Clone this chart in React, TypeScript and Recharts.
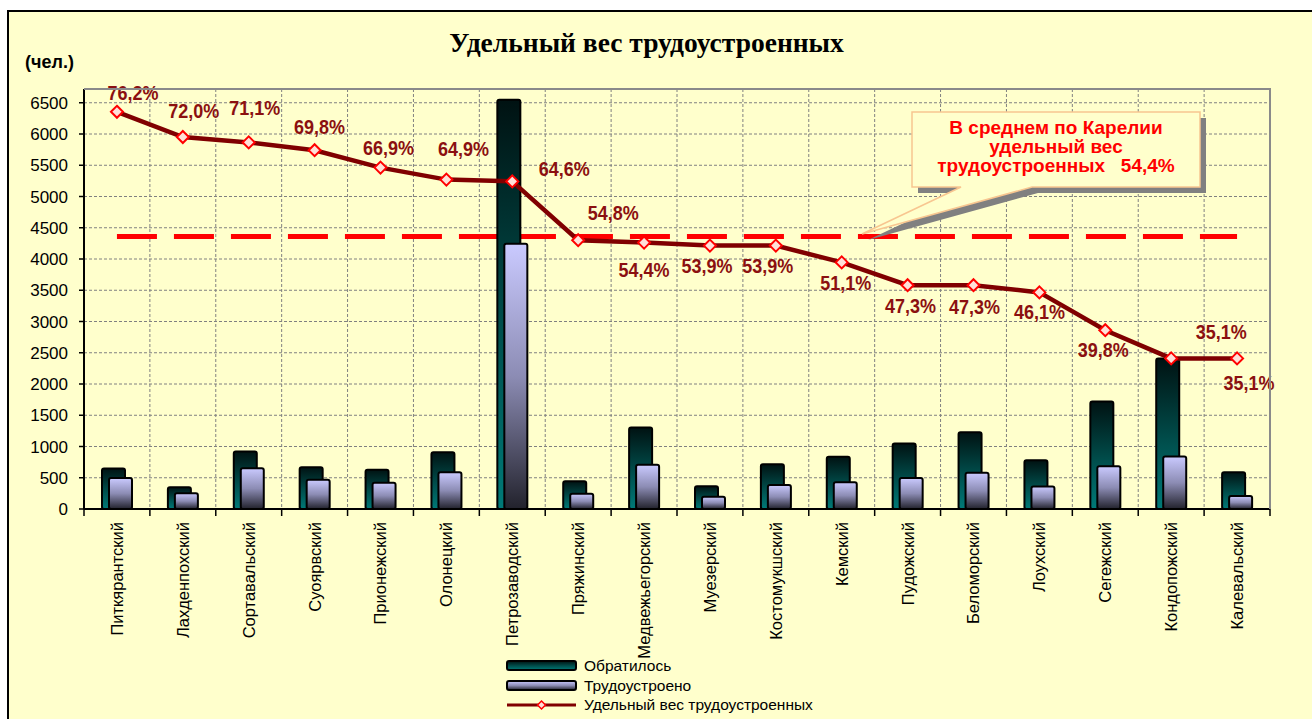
import React from "react";
import { ComposedChart, Bar, Line, XAxis, YAxis, CartesianGrid, ReferenceLine } from "recharts";

// ---------- data ----------
const districts = [
  "Питкярантский", "Лахденпохский", "Сортавальский", "Суоярвский", "Прионежский",
  "Олонецкий", "Петрозаводский", "Пряжинский", "Медвежьегорский", "Муезерский",
  "Костомукшский", "Кемский", "Пудожский", "Беломорский", "Лоухский",
  "Сегежский", "Кондопожский", "Калевальский",
];
const applied = [650, 350, 920, 670, 630, 910, 6550, 445, 1305, 365, 715, 835, 1050, 1230, 780, 1720, 2410, 590];
const employed = [495, 252, 654, 468, 421, 590, 4245, 244, 710, 197, 385, 427, 497, 582, 360, 685, 842, 207];
const sharePct = [76.2, 72.0, 71.1, 69.8, 66.9, 64.9, 64.6, 54.8, 54.4, 53.9, 53.9, 51.1, 47.3, 47.3, 46.1, 39.8, 35.1, 35.1];
const countTicks = [0, 500, 1000, 1500, 2000, 2500, 3000, 3500, 4000, 4500, 5000, 5500, 6000, 6500];
const averageShare = 54.4;
const averageLineLevel = 55.4; // where the dashed line is drawn in the picture
const seriesNames = ["Обратилось", "Трудоустроено", "Удельный вес трудоустроенных"];

const chartData = districts.map((name, i) => ({
  name,
  applied: applied[i],
  employed: employed[i],
  share: sharePct[i],
}));

// ---------- layout / style ----------
const W = 1312;
const H = 719;
const PLOT_L = 84;
const PLOT_R = 1270;
const PLOT_T = 89;
const PLOT_B = 509;
const BAND = (PLOT_R - PLOT_L) / districts.length;
const BG = "#FFFFCC";
const LABEL_COLOR = "#8B1010";
const SANS = "'Liberation Sans', Arial, sans-serif";

// label offsets (label centre relative to point)
const labelShift: [number, number][] = [
  [16, -19], [11, -27], [6, -35], [5, -24], [8, -20], [17, -31], [52, -13], [35, -28],
  [0, 27], [-3, 20], [-8, 20], [4, 20], [3, 20], [1, 21], [0, 19], [-2, 19], [50, -27], [12, 24],
];

const fmtPct = (v: number) => v.toFixed(1).replace(".", ",") + "%";

const Diamond = (props: any) => {
  const { cx, cy, index } = props;
  if (cx == null || cy == null) return null;
  const r = 6;
  return (
    <path
      key={`dm-${index}`}
      d={`M${cx},${cy - r}L${cx + r},${cy}L${cx},${cy + r}L${cx - r},${cy}Z`}
      fill="#FFE0D8"
      stroke="#FF0000"
      strokeWidth={2}
    />
  );
};

const ShareLabel = (props: any) => {
  const { x, y, value, index } = props;
  if (x == null || y == null) return null;
  const [dx, dy] = labelShift[index] ?? [0, -20];
  return (
    <text
      x={x + dx}
      y={y + dy}
      dy="0.36em"
      textAnchor="middle"
      fontFamily={SANS}
      fontSize={21}
      fontWeight="bold"
      fill={LABEL_COLOR}
      textLength={51}
      lengthAdjust="spacingAndGlyphs"
    >
      {fmtPct(Number(value))}
    </text>
  );
};

const CategoryTick = (props: any) => {
  const { x, y, payload, index } = props;
  const half = BAND / 2;
  const ty = y + 13;
  return (
    <g>
      <line x1={x - half} x2={x - half} y1={y} y2={y + 7} stroke="#000" strokeWidth={1.5} />
      {index === districts.length - 1 && (
        <line x1={x + half} x2={x + half} y1={y} y2={y + 7} stroke="#000" strokeWidth={1.5} />
      )}
      <text
        x={x}
        y={ty}
        transform={`rotate(-90 ${x} ${ty})`}
        textAnchor="end"
        dy="0.36em"
        fontSize={16.5}
        fontFamily={SANS}
        fill="#000"
      >
        {payload.value}
      </text>
    </g>
  );
};

const gradients = (suffix: string) => (
  <defs>
    <linearGradient id={`gApplied${suffix}`} x1="0" y1="0" x2="0" y2="1">
      <stop offset="0%" stopColor="#001212" />
      <stop offset="55%" stopColor="#004E4C" />
      <stop offset="100%" stopColor="#007A78" />
    </linearGradient>
    <linearGradient id={`gEmployed${suffix}`} x1="0" y1="0" x2="0" y2="1">
      <stop offset="0%" stopColor="#CACAFF" />
      <stop offset="50%" stopColor="#8C8CB4" />
      <stop offset="100%" stopColor="#22222C" />
    </linearGradient>
  </defs>
);

export default function App() {
  const cx = 1056;
  return (
    <div style={{ position: "relative", width: W, height: H, overflow: "hidden" }}>
      <style>{`html,body{margin:0;padding:0;overflow:hidden;}`}</style>
      {/* chart area background + frame */}
      <div
        style={{
          position: "absolute",
          left: 7,
          top: 10,
          width: W - 7,
          height: H - 10,
          background: BG,
          borderLeft: "2px solid #000",
          borderTop: "2px solid #000",
          boxSizing: "border-box",
        }}
      />
      <div style={{ position: "absolute", left: 0, top: 0 }}>
        <ComposedChart
          width={W}
          height={H}
          data={chartData}
          margin={{ top: PLOT_T, right: W - PLOT_R, bottom: 70, left: 0 }}
          barGap={-16}
        >
          {gradients("")}
          <CartesianGrid
            stroke="#808080"
            strokeDasharray="3 2"
            verticalCoordinatesGenerator={(p: any) => {
              const o = p && p.offset ? p.offset : { left: PLOT_L, width: PLOT_R - PLOT_L };
              return Array.from({ length: districts.length + 1 }, (_, i) => o.left + (i * o.width) / districts.length);
            }}
          />
          <XAxis
            dataKey="name"
            interval={0}
            height={140}
            tickSize={0}
            tickMargin={0}
            tickLine={false}
            axisLine={{ stroke: "#000", strokeWidth: 2 }}
            tick={<CategoryTick />}
          />
          <YAxis
            width={PLOT_L}
            domain={[0, 6720]}
            ticks={countTicks}
            allowDataOverflow
            tickSize={5}
            tickMargin={11}
            tickLine={{ stroke: "#000", strokeWidth: 1.5 }}
            axisLine={{ stroke: "#000", strokeWidth: 2 }}
            tick={{ fontSize: 17, fontFamily: SANS, fill: "#000" }}
          />
          <YAxis yAxisId="pct" orientation="right" hide domain={[10, 80]} width={0} />
          <ReferenceLine
            yAxisId="pct"
            segment={[
              { x: districts[0], y: averageLineLevel },
              { x: districts[districts.length - 1], y: averageLineLevel },
            ]}
            stroke="#FF0000"
            strokeWidth={5}
            strokeDasharray="40 17"
            {...({ zIndex: 0 } as any)}
          />
          <Bar
            dataKey="applied"
            name={seriesNames[0]}
            fill="url(#gApplied)"
            stroke="#000"
            strokeWidth={2}
            barSize={23}
            radius={2}
            isAnimationActive={false}
          />
          <Bar
            dataKey="employed"
            name={seriesNames[1]}
            fill="url(#gEmployed)"
            stroke="#000"
            strokeWidth={2}
            barSize={23}
            radius={2}
            isAnimationActive={false}
          />
          <Line
            yAxisId="pct"
            dataKey="share"
            name={seriesNames[2]}
            type="linear"
            stroke="#800000"
            strokeWidth={4.5}
            dot={<Diamond />}
            activeDot={false}
            label={<ShareLabel />}
            isAnimationActive={false}
          />
        </ComposedChart>
      </div>
      {/* overlay: title, unit, plot border, callout, legend */}
      <svg
        width={W}
        height={H}
        style={{ position: "absolute", left: 0, top: 0, pointerEvents: "none" }}
      >
        {gradients("L")}
        <text x={646.5} y={52} textAnchor="middle" fontFamily="'Liberation Serif', 'Times New Roman', serif" fontWeight="bold" fontSize={27.5} fill="#000">
          Удельный вес трудоустроенных
        </text>
        <text x={25} y={68} fontFamily={SANS} fontWeight="bold" fontSize={18} fill="#000">
          (чел.)
        </text>
        <polyline
          points={`${PLOT_L},${PLOT_T} ${PLOT_R},${PLOT_T} ${PLOT_R},${PLOT_B}`}
          fill="none"
          stroke="#8A8A8A"
          strokeWidth={2}
        />
        {/* callout */}
        <g transform="translate(6,6)">
          <path d="M912,112 H1200 V187 H1032 L862,234 L961,187 H912 Z" fill="#808080" />
        </g>
        <path d="M912,112 H1200 V187 H1032 L862,234 L961,187 H912 Z" fill="#FFFFCC" stroke="#F8C690" strokeWidth={1.5} />
        <g fontFamily={SANS} fontWeight="bold" fontSize={19} fill="#FF0000" textAnchor="middle">
          <text x={cx} y={134}>В среднем по Карелии</text>
          <text x={cx} y={153}>удельный вес</text>
          <text x={cx} y={172} style={{ whiteSpace: "pre" }}>{`трудоустроенных   ${fmtPct(averageShare)}`}</text>
        </g>
        {/* legend */}
        <g fontFamily={SANS} fontSize={15.5} fill="#000">
          <rect x={507} y={661} width={69} height={9} rx={2} fill="url(#gAppliedL)" stroke="#000" strokeWidth={2} />
          <text x={584} y={671}>{seriesNames[0]}</text>
          <rect x={507} y={681} width={69} height={9} rx={2} fill="url(#gEmployedL)" stroke="#000" strokeWidth={2} />
          <text x={584} y={691}>{seriesNames[1]}</text>
          <line x1={507} x2={576} y1={705} y2={705} stroke="#800000" strokeWidth={3} />
          <path d="M541.5,701 L545.5,705 L541.5,709 L537.5,705 Z" fill="#FFE0D8" stroke="#FF0000" strokeWidth={1.5} />
          <text x={584} y={710}>{seriesNames[2]}</text>
        </g>
      </svg>
    </div>
  );
}
